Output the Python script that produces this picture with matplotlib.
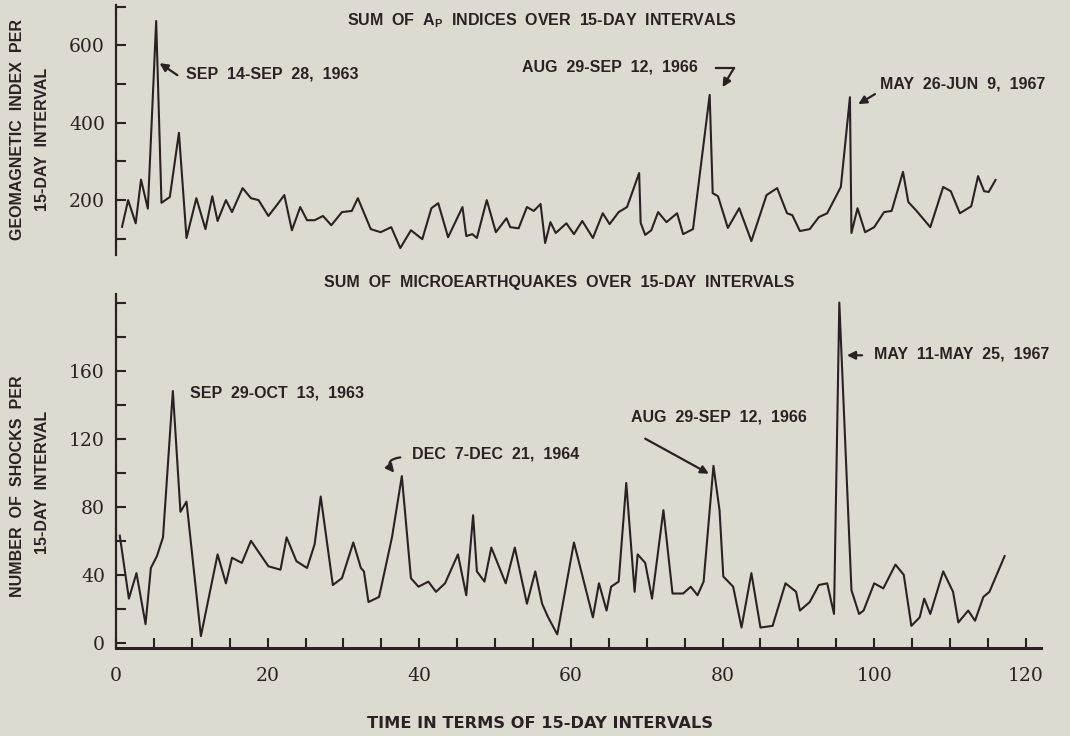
import matplotlib
matplotlib.use("Agg")
import matplotlib.pyplot as plt
from matplotlib.ticker import MultipleLocator, FixedLocator

plt.rcParams['mathtext.fontset'] = 'custom'
plt.rcParams['mathtext.rm'] = 'Liberation Sans:bold'
plt.rcParams['mathtext.it'] = 'Liberation Sans:bold'

# Sum of Ap indices over 15-day intervals (time in 15-day intervals, value)
ap_t = [0.8, 1.6, 2.6, 3.3, 4.2, 5.3, 6.0, 7.1, 8.3, 9.3, 10.6, 11.8, 12.7, 13.4, 14.5,
        15.3, 16.7, 17.8, 18.8, 20.1, 21.1, 22.2, 23.2, 24.3, 25.2, 26.2, 27.3, 28.4,
        29.8, 31.1, 31.9, 33.6, 34.9, 36.3, 37.5, 38.9, 40.4, 41.6, 42.5, 43.8, 45.7,
        46.2, 47.0, 47.6, 48.9, 50.1, 51.5, 52.0, 53.1, 54.2, 55.1, 56.0, 56.6, 57.3,
        58.0, 59.4, 60.4, 61.5, 62.9, 64.2, 65.1, 66.3, 67.4, 69.0, 69.2, 69.8, 70.6,
        71.5, 72.6, 74.0, 74.8, 76.1, 78.3, 78.7, 79.4, 80.7, 82.2, 83.8, 85.8, 87.2,
        88.5, 89.2, 90.2, 91.5, 92.7, 93.8, 95.6, 96.8, 97.0, 97.8, 98.8, 100.0, 101.3,
        102.3, 103.8, 104.5, 105.5, 107.4, 109.1, 110.1, 111.3, 112.8, 113.7, 114.5,
        115.1, 116.0]
ap_sum = [131, 200, 140, 253, 178, 663, 193, 208, 374, 102, 205, 125, 210, 146, 200,
          169, 231, 205, 200, 159, 184, 213, 122, 182, 148, 148, 159, 135,
          169, 172, 205, 125, 117, 130, 76, 122, 99, 179, 192, 104, 182,
          107, 112, 102, 200, 117, 153, 130, 127, 182, 172, 190, 89, 143,
          115, 140, 112, 146, 102, 166, 138, 169, 182, 270, 141, 110, 122,
          169, 143, 166, 112, 125, 472, 218, 210, 128, 179, 94, 213, 231,
          166, 161, 120, 125, 156, 166, 234, 466, 115, 179, 117, 130, 169,
          172, 273, 195, 174, 130, 234, 223, 166, 184, 262, 223,
          221, 252]

# Sum of microearthquakes over 15-day intervals
eq_t = [0.5, 1.7, 2.7, 3.9, 4.6, 5.4, 6.2, 7.5, 8.5, 9.3, 11.2, 13.4, 14.5, 15.3, 16.6,
        17.8, 20.1, 21.7, 22.5, 23.8, 25.2, 26.2, 27.0, 28.6, 29.8, 31.3, 32.3, 32.7,
        33.3, 34.7, 36.4, 37.7, 38.9, 39.9, 41.2, 42.2, 43.4, 45.1, 46.2, 47.1, 47.6,
        48.6, 49.5, 51.4, 52.6, 54.2, 55.3, 56.2, 57.0, 58.2, 60.4, 62.9, 63.7, 64.7,
        65.3, 66.3, 67.3, 68.4, 68.8, 69.8, 70.7, 72.2, 73.4, 74.8, 75.8, 76.7, 77.5,
        78.8, 79.6, 80.1, 81.4, 82.5, 83.8, 85.0, 86.6, 88.3, 89.7, 90.2, 91.5, 92.7,
        93.8, 94.7, 95.4, 97.0, 98.0, 98.6, 100.0, 101.2, 102.8, 103.9, 104.9, 106.0,
        106.6, 107.4, 109.1, 110.4, 111.1, 112.4, 113.3, 114.4, 115.2, 117.2]
eq_count = [63, 26, 41, 11, 44, 51, 62, 148, 77, 83, 4, 52, 35, 50, 47,
            60, 45, 43, 62, 48, 44, 58, 86, 34, 38, 59, 44, 42,
            24, 27, 62, 98, 38, 33, 36, 30, 35, 52, 28, 75, 42,
            36, 56, 35, 56, 23, 42, 23, 15, 5, 59, 15, 35, 19,
            33, 36, 94, 30, 52, 47, 26, 78, 29, 29, 33, 28, 36,
            104, 78, 39, 33, 9, 41, 9, 10, 35, 30, 19, 24, 34,
            35, 17, 200, 31, 17, 19, 35, 32, 46, 40, 10, 15,
            26, 17, 42, 30, 12, 19, 13, 27, 30, 51]

bg = '#dcdbd2'
ink = '#2a2222'
sans = ['Liberation Sans', 'DejaVu Sans']
serif = ['DejaVu Serif']

fig = plt.figure(figsize=(10.7, 7.36), dpi=100, facecolor=bg)
ax1 = fig.add_axes([0.1084, 0.6535, 0.8645, 0.3395])
ax2 = fig.add_axes([0.1084, 0.1196, 0.8645, 0.4809])

for ax in (ax1, ax2):
    ax.set_facecolor('none')
    ax.set_xlim(0, 122)
    for s in ('top', 'right'):
        ax.spines[s].set_visible(False)
    ax.spines['left'].set_linewidth(1.6)
    ax.spines['left'].set_color(ink)
    ax.tick_params(which='both', direction='in', length=7, width=1.5, color=ink,
                   labelsize=13.5, labelcolor=ink, pad=8)

# top panel
ax1.plot(ap_t, ap_sum, color=ink, lw=1.5)
ax1.set_ylim(58, 704)
ax1.spines['bottom'].set_visible(False)
ax1.set_xticks([])
ax1.yaxis.set_major_locator(FixedLocator([200, 400, 600]))
ax1.yaxis.set_minor_locator(FixedLocator([100, 300, 500, 700]))

# bottom panel
ax2.plot(eq_t, eq_count, color=ink, lw=1.5)
ax2.set_ylim(-3, 205)
ax2.spines['bottom'].set_linewidth(2.2)
ax2.spines['bottom'].set_color(ink)
ax2.yaxis.set_major_locator(FixedLocator([0, 40, 80, 120, 160]))
ax2.yaxis.set_minor_locator(FixedLocator([20, 60, 100, 140, 180, 200]))
ax2.xaxis.set_major_locator(MultipleLocator(20))
ax2.xaxis.set_minor_locator(MultipleLocator(5))
ax2.tick_params(axis='x', pad=14)
for lab in ax2.get_xticklabels() + ax2.get_yticklabels() + ax1.get_yticklabels():
    lab.set_family(serif)
    lab.set_fontsize(13.5)

txt = dict(family=sans, weight='bold', fontsize=11.5, color=ink)
arrow = dict(arrowstyle='-|>', color=ink, lw=1.6, mutation_scale=12, shrinkA=0, shrinkB=0)

# titles and axis labels (figure pixel positions)
def ftext(px, py, s, **kw):
    fig.text(px / 1070, 1 - py / 736, s, **kw)

ftext(542, 21, r'SUM  OF  A$_\mathrm{P}$  INDICES  OVER  15-DAY  INTERVALS', ha='center', va='center', **txt)
ftext(559, 283, 'SUM  OF  MICROEARTHQUAKES  OVER  15-DAY  INTERVALS', ha='center', va='center', **txt)
ftext(17.5, 130, 'GEOMAGNETIC  INDEX  PER', rotation=90, ha='center', va='center', **txt)
ftext(42.5, 139, '15-DAY  INTERVAL', rotation=90, ha='center', va='center', **txt)
ftext(17.5, 486, 'NUMBER  OF  SHOCKS  PER', rotation=90, ha='center', va='center', **txt)
ftext(42.5, 482, '15-DAY  INTERVAL', rotation=90, ha='center', va='center', **txt)
ftext(540, 723, 'TIME IN TERMS OF 15-DAY INTERVALS', ha='center', va='center',
      family=['DejaVu Sans'], weight='bold', fontsize=11.7, color=ink)

# top annotations
ax1.text(9.2, 526, 'SEP  14-SEP  28,  1963', va='center', **txt)
ax1.annotate('', xy=(5.75, 554), xytext=(8.1, 523), arrowprops=arrow)
ax1.text(53.5, 544, 'AUG  29-SEP  12,  1966', va='center', **txt)
ax1.plot([79.1, 81.5], [541, 541], color=ink, lw=1.6)
ax1.annotate('', xy=(80.0, 492), xytext=(81.5, 541), arrowprops=arrow)
ax1.text(100.8, 500, 'MAY  26-JUN  9,  1967', va='center', **txt)
ax1.annotate('', xy=(97.9, 448), xytext=(100.1, 474), arrowprops=arrow)

# bottom annotations
ax2.text(9.75, 147, 'SEP  29-OCT  13,  1963', va='center', **txt)
ax2.text(39, 111, 'DEC  7-DEC  21,  1964', va='center', **txt)
ax2.annotate('', xy=(36.7, 100), xytext=(37.5, 109),
             arrowprops=dict(arrow, connectionstyle='arc3,rad=0.9'))
ax2.text(67.9, 133, 'AUG  29-SEP  12,  1966', va='center', **txt)
ax2.annotate('', xy=(78.2, 99.4), xytext=(69.8, 120), arrowprops=arrow)
ax2.text(100, 170, 'MAY  11-MAY  25,  1967', va='center', **txt)
ax2.annotate('', xy=(96.4, 169), xytext=(98.4, 169), arrowprops=arrow)

fig.savefig('out.png', dpi=100, facecolor=bg)
